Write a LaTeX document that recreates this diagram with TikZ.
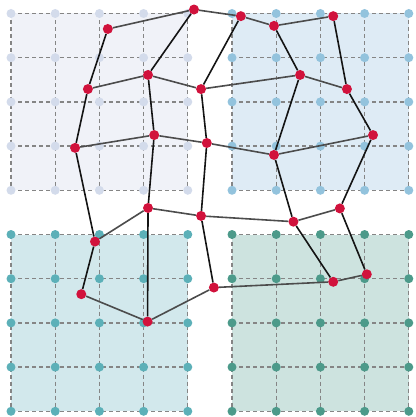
\documentclass[tikz,border=0pt]{standalone}
\usepackage{tikz}
\usetikzlibrary{positioning}
\definecolor{meshred}{HTML}{D1123C}
\definecolor{tlfill}{HTML}{F0F2F8}
\definecolor{tldot}{HTML}{D3DBEB}
\definecolor{trfill}{HTML}{DEEBF5}
\definecolor{trdot}{HTML}{93C3DD}
\definecolor{blfill}{HTML}{D2E8EC}
\definecolor{bldot}{HTML}{5CB0B8}
\definecolor{brfill}{HTML}{CDE3DF}
\definecolor{brdot}{HTML}{4C9A8A}

\begin{document}
\begin{tikzpicture}[x=44.2pt, y=-44.2pt,
  gdot/.style={circle, inner sep=0pt, minimum size=9pt},
  mnode/.style={circle, fill=meshred, inner sep=0pt, minimum size=10pt},
  gridln/.style={black!48, line width=1.3pt, dash pattern=on 4pt off 3pt},
  hln/.style={black!70, line width=1.6pt},
  vln/.style={black!92, line width=1.6pt}]
\useasboundingbox (-11pt,13.5pt) rectangle (404pt,-403.5pt);

% four reference grids
\foreach \bx/\by/\fc/\dc/\gname in {0/0/tlfill/tldot/a, 5/0/trfill/trdot/b, 0/5/blfill/bldot/c, 5/5/brfill/brdot/d}{
  \fill[\fc] (\bx,\by) rectangle ++(4,4);
  \foreach \ii in {0,...,4}{
    \foreach \jj in {0,...,4}{
      \coordinate (\gname-\ii-\jj) at (\bx+\ii,\by+\jj);}}
  \foreach \kk in {0,...,4}{
    \draw[gridln] (\gname-0-\kk) -- (\gname-4-\kk);
    \draw[gridln] (\gname-\kk-0) -- (\gname-\kk-4);}
  \foreach \ii in {0,...,4}{
    \foreach \jj in {0,...,4}{
      \node[gdot, fill=\dc] (\gname-dot-\ii-\jj) at (\gname-\ii-\jj) {};}}
}

% deformed mesh
\foreach \row/\col/\px/\py in {0/0/2.19/0.35, 0/1/4.14/-0.09, 0/2/5.20/0.06, 0/3/5.95/0.28, 0/4/7.29/0.06, 1/0/1.74/1.71, 1/1/3.10/1.39, 1/2/4.30/1.71, 1/3/6.54/1.39, 1/4/7.60/1.71, 2/0/1.45/3.04, 2/1/3.24/2.75, 2/2/4.43/2.93, 2/3/5.95/3.20, 2/4/8.19/2.75, 3/0/1.90/5.16, 3/1/3.10/4.40, 3/2/4.30/4.58, 3/3/6.39/4.71, 3/4/7.44/4.41, 4/0/1.59/6.35, 4/1/3.09/6.97, 4/2/4.59/6.20, 4/3/7.29/6.07, 4/4/8.05/5.90}{
  \node[mnode] (m-\row-\col) at (\px,\py) {};}

\foreach \row in {0,...,4}{
  \foreach \col [evaluate=\col as \nxt using int(\col+1)] in {0,...,3}{
    \draw[hln] (m-\row-\col) -- (m-\row-\nxt);
    \draw[vln] (m-\col-\row) -- (m-\nxt-\row);}}
\end{tikzpicture}
\end{document}
